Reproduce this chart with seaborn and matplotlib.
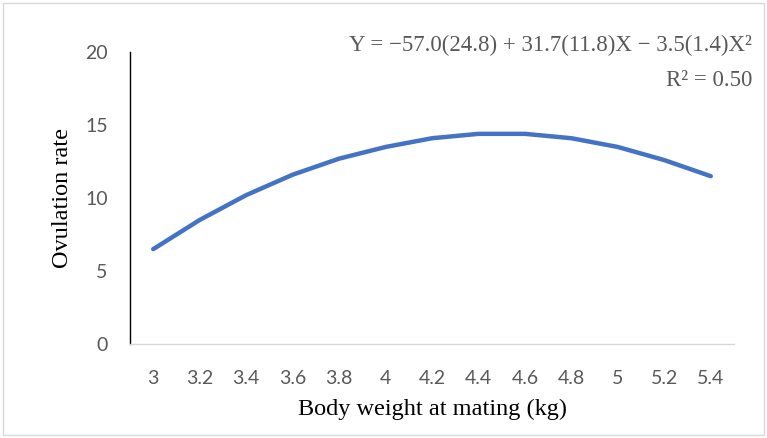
import matplotlib
matplotlib.use("Agg")
import matplotlib.pyplot as plt
import matplotlib.patches as mpatches
import seaborn as sns
import pandas as pd

body_weight = ["3", "3.2", "3.4", "3.6", "3.8", "4", "4.2", "4.4", "4.6", "4.8", "5", "5.2", "5.4"]
ovulation_rate = [6.5, 8.5, 10.2, 11.6, 12.7, 13.5, 14.1, 14.4, 14.4, 14.1, 13.5, 12.6, 11.5]
y_ticks = [0, 5, 10, 15, 20]

sns.set_style("white")
plt.rcParams['font.family'] = ['Lato', 'DejaVu Sans']

df = pd.DataFrame({"weight": body_weight, "rate": ovulation_rate})

fig = plt.figure(figsize=(7.67, 4.38), dpi=100)
ax = fig.add_axes([0.1695, 0.2146, 0.957 - 0.1695, 0.881 - 0.2146])

sns.lineplot(data=df, x="weight", y="rate", ax=ax, color="#4472C4",
             linewidth=3.2, sort=False, solid_capstyle="round", solid_joinstyle="round")

ax.set_xlim(-0.5, len(body_weight) - 0.5)
ax.set_ylim(0, 20)
ax.set_yticks(y_ticks)
ax.set_xticks(range(len(body_weight)))
ax.set_xticklabels(body_weight)
ax.tick_params(axis="both", length=0, labelsize=14, colors="#595959")
ax.tick_params(axis="x", pad=19)
ax.tick_params(axis="y", pad=16)

for s in ["top", "right"]:
    ax.spines[s].set_visible(False)
ax.spines["left"].set_color("black")
ax.spines["left"].set_linewidth(1.0)
ax.spines["bottom"].set_color("#d9d9d9")
ax.spines["bottom"].set_linewidth(1.0)

serif = ['Liberation Serif', 'DejaVu Serif']
ax.set_xlabel("Body weight at mating (kg)", fontsize=17.5, family=serif, color="black", labelpad=8)
ax.set_ylabel("Ovulation rate", fontsize=17.5, family=serif, color="black", labelpad=9)

fig.text(752 / 767, 1 - 45 / 438, "Y = \u221257.0(24.8) + 31.7(11.8)X \u2212 3.5(1.4)X\u00b2",
         ha="right", va="center", fontsize=16.5, family=serif, color="#595959")
fig.text(752 / 767, 1 - 80 / 438, "R\u00b2 = 0.50",
         ha="right", va="center", fontsize=16.5, family=serif, color="#595959")

border = mpatches.Rectangle((3 / 767, 3 / 438), 1 - 6 / 767, 1 - 6 / 438,
                            transform=fig.transFigure, fill=False,
                            edgecolor="#d9d9d9", linewidth=1.0)
fig.patches.append(border)

fig.savefig("out.png", dpi=100)
